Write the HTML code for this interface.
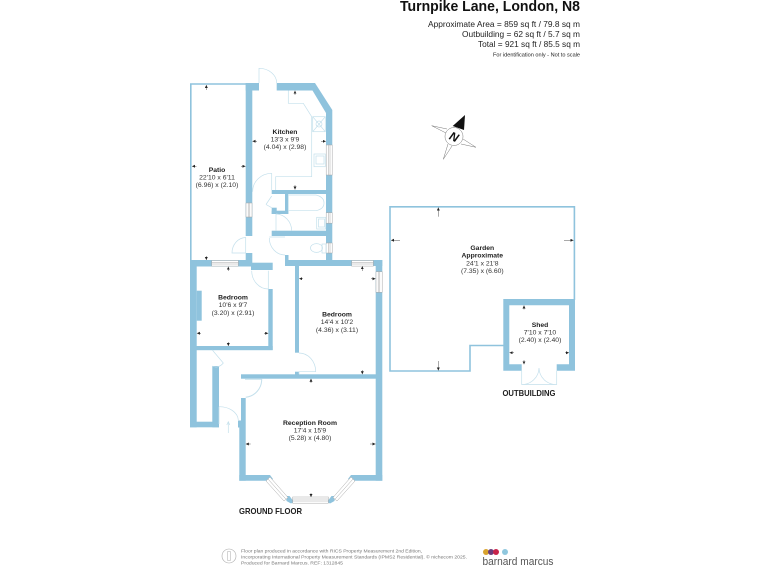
<!DOCTYPE html>
<html><head><meta charset="utf-8"><style>
html,body{margin:0;padding:0;background:#fff;width:768px;height:576px;overflow:hidden}
svg{display:block}
text{font-family:"Liberation Sans",sans-serif;fill:#333;text-anchor:middle;font-size:6.8px}
.b{font-weight:bold;fill:#222}
.r{text-anchor:end;font-size:8.6px;fill:#222}
.f{text-anchor:start;font-size:4.7px;fill:#777}
.h{font-weight:bold;font-size:8.4px;fill:#222}
.w{fill:#8fc3dd}
.t{fill:none;stroke:#c4e0ec;stroke-width:.7}
.g{fill:none;stroke:#8fc3dd;stroke-width:1.6}
.win{fill:#fff;stroke:#a8a8a8;stroke-width:.5}
.a{stroke:#444;stroke-width:.45;fill:none}
</style></head><body>
<svg width="768" height="576" viewBox="0 0 768 576" xmlns="http://www.w3.org/2000/svg">
<defs><marker id="m" markerWidth="5" markerHeight="5" refX="3" refY="1.5" orient="auto" markerUnits="userSpaceOnUse"><path d="M0 0L3 1.5L0 3Z" fill="#222"/></marker></defs>

<!-- header -->
<text x="580" y="11" class="b" style="text-anchor:end;font-size:14.6px;fill:#111" textLength="180" lengthAdjust="spacingAndGlyphs">Turnpike Lane, London, N8</text>
<text x="580" y="27" class="r" textLength="152" lengthAdjust="spacingAndGlyphs">Approximate Area = 859 sq ft / 79.8 sq m</text>
<text x="580" y="37" class="r" textLength="118" lengthAdjust="spacingAndGlyphs">Outbuilding = 62 sq ft / 5.7 sq m</text>
<text x="580" y="47" class="r" textLength="102" lengthAdjust="spacingAndGlyphs">Total = 921 sq ft / 85.5 sq m</text>
<text x="580" y="56.5" class="r" style="font-size:5px" textLength="87" lengthAdjust="spacingAndGlyphs">For identification only - Not to scale</text>

<!-- compass -->
<g fill="none" stroke="#777" stroke-width=".5">
<path d="M431.7 125.7L447 129M431.7 125.7L446 133M476 147.3L461 144M476 147.3L463 139M443.3 159.3L448 144M443.3 159.3L452 146"/>
</g>
<path d="M465 115L464 130L452.7 126Z" fill="#111"/>
<circle cx="454" cy="136.5" r="9" fill="#fff" stroke="#777" stroke-width=".5"/>
<text x="454" y="141" class="b" style="font-size:12px;font-style:italic;fill:#111" transform="rotate(25 454 137)">N</text>

<!-- garden -->
<path class="g" d="M503.5 345.5H470V371H390V206.8H574.4V300"/>

<!-- patio outline -->
<path class="g" d="M246 84H190.8V261"/>

<!-- walls -->
<g class="w">
<rect x="245.7" y="83" width="6.6" height="153"/>
<rect x="245.7" y="83" width="13.3" height="7.5"/>
<path d="M276.7 83H315L332.3 110V253H326V113L312.5 90.5H276.7Z"/>
<rect x="271.7" y="190" width="55" height="4"/>
<rect x="285" y="194" width="3.3" height="20"/>
<rect x="271.7" y="207.7" width="5" height="6.3"/>
<rect x="271.7" y="210.7" width="16.6" height="3.3"/>
<rect x="271.7" y="230.7" width="55" height="5.3"/>
<rect x="245.7" y="253" width="6.6" height="10"/>
<rect x="285" y="255" width="3.5" height="8"/>
<rect x="326" y="243" width="6.3" height="20"/>
<!-- bedroom 1 -->
<rect x="190" y="260" width="61.7" height="6.5"/>
<rect x="190" y="260" width="6.7" height="167.3"/>
<rect x="251" y="262.7" width="21.7" height="7.3"/>
<rect x="268.3" y="289" width="4.4" height="61"/>
<rect x="190" y="346" width="82.7" height="4.2"/>
<rect x="196.7" y="290.7" width="5" height="30"/>
<!-- corridor -->
<rect x="212.3" y="366" width="6.7" height="61.3"/>
<rect x="190" y="421.7" width="29" height="5.6"/>
<!-- bedroom 2 -->
<rect x="285" y="260" width="97.3" height="6"/>
<rect x="295" y="266" width="4" height="86.7"/>
<rect x="295" y="371.7" width="4" height="3"/>
<rect x="375.7" y="260" width="6.6" height="220.7"/>
<rect x="241" y="374.3" width="135.7" height="4.4"/>
<!-- reception -->
<rect x="241" y="398" width="4.7" height="23"/>
<rect x="239.3" y="421" width="6.4" height="59.7"/>
<rect x="238" y="420.5" width="3" height="7"/>
<path d="M239.3 475H270L273 479L271 480.7H239.3Z"/>
<path d="M382.3 475H351L348 479L350 480.7H382.3Z"/>
<path d="M286 496L289.5 496L294 502L291 503.5L286.5 501Z"/>
<path d="M335 496L331.5 496L327 502L330 503.5L334.5 501Z"/>
<!-- shed -->
<path fill-rule="evenodd" d="M503.3 299H575V370.7H556.7V364.3H569V305.3H509.3V364.3H521.7V370.7H503.3Z"/>
</g>

<!-- windows -->
<rect class="win" x="246" y="203" width="6" height="14"/>
<rect class="win" x="248.2" y="203" width="1.6" height="14"/>
<rect class="win" x="326.2" y="145" width="6" height="30"/>
<rect class="win" x="328.4" y="145" width="1.6" height="30"/>
<rect class="win" x="326.2" y="212.7" width="6" height="10.5"/>
<rect class="win" x="328.4" y="212.7" width="1.6" height="10.5"/>
<rect class="win" x="326.2" y="243" width="6" height="10"/>
<rect class="win" x="328.4" y="243" width="1.6" height="10"/>
<rect class="win" x="211.7" y="260.5" width="26.6" height="5.6"/>
<rect class="win" x="211.7" y="262.5" width="26.6" height="1.5"/>
<rect class="win" x="351.7" y="260.5" width="21.6" height="5.6"/>
<rect class="win" x="351.7" y="262.5" width="21.6" height="1.5"/>
<rect class="win" x="376" y="271.7" width="6.2" height="20.6"/>
<rect class="win" x="378.2" y="271.7" width="1.6" height="20.6"/>
<rect class="win" x="292.7" y="497" width="35.6" height="6.2"/>
<rect class="win" x="292.7" y="499" width="35.6" height="2"/>
<path d="M270 477L288 497.5L284 501L266 481Z" class="win"/>
<path d="M268 479L286 499.2" class="win"/>
<path d="M351 477L333 497.5L337 501L355 481Z" class="win"/>
<path d="M353 479L335 499.2" class="win"/>

<!-- fixtures and doors -->
<g class="t">
<path d="M288.3 90.5V103.3H303.3L311.7 116.7V176.7H275.7V190"/>
<rect x="312.7" y="116.7" width="12.6" height="15"/>
<path d="M312.7 116.7L325.3 131.7M325.3 116.7L312.7 131.7"/>
<circle cx="319" cy="124" r="3"/>
<rect x="314" y="154" width="11.3" height="12.7"/>
<rect x="316" y="156" width="8" height="8"/>
<path d="M288.3 195H316Q324 197 324 203Q324 209 316 210.7H288.3Z"/>
<rect x="316.7" y="217.3" width="9" height="11.7"/>
<rect x="318.5" y="219" width="6" height="8"/>
<ellipse cx="316.5" cy="248" rx="6" ry="4.4"/>
<rect x="322" y="244" width="4" height="9"/>
<path d="M259 83V68.3A17.7 14.7 0 0 1 276.7 83"/>
<path d="M271.7 173.3V190M271.7 173.3A19 18 0 0 0 252.7 191.7"/>
<path d="M266 204.5L271.7 196M266 204.5L271.7 207.7"/>
<path d="M276 214V230.7M276 214A16 17 0 0 1 291.7 230.7"/>
<path d="M269.3 237H285M269.3 238A15.7 17 0 0 0 285 255"/>
<path d="M245.7 237.5V253H232A14 15.5 0 0 1 245.7 237.5Z"/>
<path d="M268.3 270.7V289A16.6 18.3 0 0 1 251.7 270.7"/>
<path d="M212.3 350L223.3 363A11 16 0 0 1 212.3 366"/>
<path d="M299 353A16.7 18.5 0 0 1 315.7 371.7H299V374"/>
<path d="M245 379.3H261.7A18 18 0 0 1 245.7 397.3" stroke-width="1"/>
<path d="M219 406.7V424M219 406.7A19 14 0 0 1 238.3 420"/>
<path d="M521.7 370.7V384.5H539M539 368A17 17 0 0 1 521.7 384.5M556.7 370.7V384.5H539M539 368A17 17 0 0 0 556.7 384.5"/>
<path d="M228.3 433V422"/>
<path d="M226.8 425L228.3 421.7L229.8 425"/>
</g>

<!-- arrows -->
<g class="a">
<path marker-end="url(#m)" d="M206.3 90V85"/>
<path marker-end="url(#m)" d="M196.5 166.3H192"/>
<path marker-end="url(#m)" d="M241 166.3H245.5"/>
<path marker-end="url(#m)" d="M206.3 256V260"/>
<path marker-end="url(#m)" d="M295 95V90.7"/>
<path marker-end="url(#m)" d="M257 141.3H252.5"/>
<path marker-end="url(#m)" d="M321 141.3H325.8"/>
<path marker-end="url(#m)" d="M295 185V189.5"/>
<path marker-end="url(#m)" d="M228.3 271V266.7"/>
<path marker-end="url(#m)" d="M201 333.3H196.9"/>
<path marker-end="url(#m)" d="M264 333.3H268.2"/>
<path marker-end="url(#m)" d="M228.3 342V346"/>
<path marker-end="url(#m)" d="M362.3 271V266.2"/>
<path marker-end="url(#m)" d="M303 278.7H299.2"/>
<path marker-end="url(#m)" d="M371 278.7H375.5"/>
<path marker-end="url(#m)" d="M362.3 370V374.2"/>
<path marker-end="url(#m)" d="M311 383V378.8"/>
<path marker-end="url(#m)" d="M250.7 444H245.8"/>
<path marker-end="url(#m)" d="M370 444H375.5"/>
<path marker-end="url(#m)" d="M311 493V497"/>
<path marker-end="url(#m)" d="M438.3 216.7V207.5"/>
<path marker-end="url(#m)" d="M400 240.3H391"/>
<path marker-end="url(#m)" d="M564 240.3H573.5"/>
<path marker-end="url(#m)" d="M438.3 361V370.5"/>
<path marker-end="url(#m)" d="M524 309.5V305.5"/>
<path marker-end="url(#m)" d="M514 352.7H509.5"/>
<path marker-end="url(#m)" d="M565 352.7H569"/>
<path marker-end="url(#m)" d="M524 360V364.3"/>
</g>

<!-- labels -->
<text x="285" y="134" class="b">Kitchen</text><text x="285" y="141.3">13'3 x 9'9</text><text x="285" y="149">(4.04) x (2.98)</text>
<text x="217" y="172" class="b">Patio</text><text x="217" y="179.3">22'10 x 6'11</text><text x="217" y="187">(6.96) x (2.10)</text>
<text x="233" y="299.6" class="b">Bedroom</text><text x="233" y="307.2">10'6 x 9'7</text><text x="233" y="315">(3.20) x (2.91)</text>
<text x="337" y="316.3" class="b">Bedroom</text><text x="337" y="324">14'4 x 10'2</text><text x="337" y="331.8">(4.36) x (3.11)</text>
<text x="310" y="425" class="b">Reception Room</text><text x="310" y="432.3">17'4 x 15'9</text><text x="310" y="440.2">(5.28) x (4.80)</text>
<text x="482.3" y="250" class="b">Garden</text><text x="482.3" y="257.6" class="b">Approximate</text><text x="482.3" y="265.3">24'1 x 21'8</text><text x="482.3" y="273.2">(7.35) x (6.60)</text>
<text x="540" y="327" class="b">Shed</text><text x="540" y="334.3">7'10 x 7'10</text><text x="540" y="342">(2.40) x (2.40)</text>
<text x="270.5" y="514" class="h" textLength="63" lengthAdjust="spacingAndGlyphs">GROUND FLOOR</text>
<text x="529" y="396" class="h" textLength="53" lengthAdjust="spacingAndGlyphs">OUTBUILDING</text>

<!-- footer -->
<circle cx="229" cy="556" r="7" fill="none" stroke="#aaa" stroke-width=".6"/>
<path d="M227.5 551.5H230.5V560.5H227.5Z" fill="none" stroke="#aaa" stroke-width=".5"/>
<text x="241" y="552.5" class="f" textLength="181" lengthAdjust="spacingAndGlyphs">Floor plan produced in accordance with RICS Property Measurement 2nd Edition,</text>
<text x="241" y="558.5" class="f" textLength="226" lengthAdjust="spacingAndGlyphs">Incorporating International Property Measurement Standards (IPMS2 Residential).  © nichecom 2025.</text>
<text x="241" y="564.5" class="f" textLength="102" lengthAdjust="spacingAndGlyphs">Produced for Barnard Marcus.  REF: 1312845</text>
<circle cx="486" cy="552" r="3" fill="#d9a32e"/>
<circle cx="491" cy="552" r="3" fill="#6b3d7d"/>
<circle cx="496" cy="552" r="3" fill="#c8234a"/>
<circle cx="505" cy="552" r="3" fill="#8fc7de"/>
<text x="482.5" y="565" style="text-anchor:start;font-size:11px;fill:#555" textLength="71" lengthAdjust="spacingAndGlyphs">barnard marcus</text>
</svg>
</body></html>
